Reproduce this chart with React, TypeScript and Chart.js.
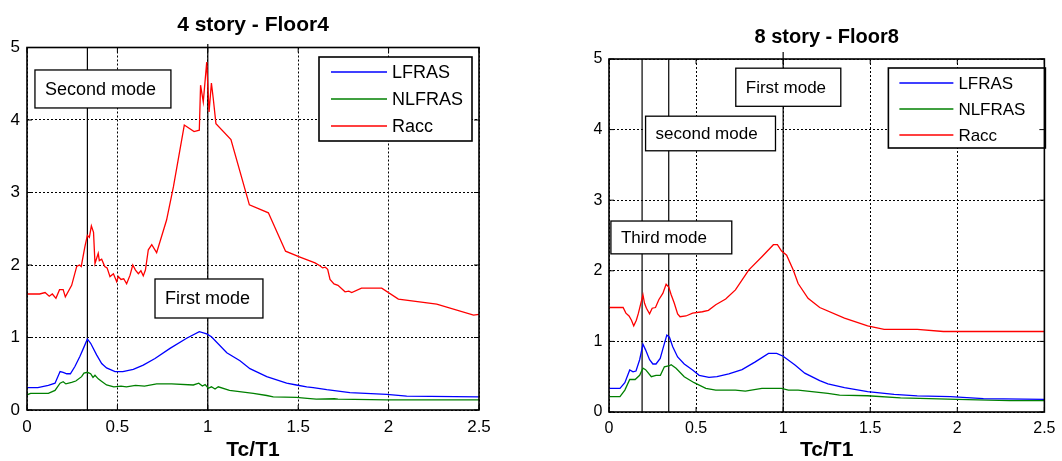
import React, { useEffect, useRef } from 'react';
import { Chart, registerables } from 'chart.js';

Chart.register(...registerables);

const FONT = "'Liberation Sans', Arial, Helvetica, sans-serif";

// ---------- shared labels ----------
const seriesNames = ['LFRAS', 'NLFRAS', 'Racc'];
const seriesColors = ['#0000ff', '#008000', '#ff0000'];
const xTickValues = [0, 0.5, 1, 1.5, 2, 2.5];
const xTickLabels = ['0', '0.5', '1', '1.5', '2', '2.5'];
const yTickValues = [0, 1, 2, 3, 4, 5];
const yTickLabels = ['0', '1', '2', '3', '4', '5'];
const xAxisTitle = 'Tc/T1';

// ---------- 4 story - Floor4 ----------
const f4LfrasX = [0, 0.06, 0.118, 0.155, 0.183, 0.2, 0.22, 0.24, 0.265, 0.293, 0.312, 0.334, 0.352, 0.385, 0.413, 0.44, 0.487, 0.53, 0.588, 0.643, 0.708, 0.791, 0.883, 0.953, 0.994, 1.02, 1.105, 1.178, 1.233, 1.326, 1.436, 1.49, 1.547, 1.583, 1.658, 1.786, 1.99, 2.1, 2.5];
const f4LfrasY = [0.31, 0.31, 0.34, 0.37, 0.53, 0.52, 0.5, 0.5, 0.6, 0.74, 0.85, 0.98, 0.92, 0.76, 0.64, 0.58, 0.53, 0.53, 0.56, 0.62, 0.71, 0.85, 0.99, 1.08, 1.05, 1.01, 0.79, 0.68, 0.57, 0.46, 0.37, 0.345, 0.32, 0.31, 0.28, 0.24, 0.216, 0.19, 0.18];

const f4NlfrasX = [0, 0.02, 0.118, 0.155, 0.183, 0.2, 0.215, 0.247, 0.27, 0.302, 0.315, 0.334, 0.352, 0.365, 0.376, 0.394, 0.41, 0.44, 0.48, 0.52, 0.55, 0.6, 0.65, 0.717, 0.8, 0.92, 0.95, 0.97, 0.985, 1.003, 1.02, 1.04, 1.058, 1.12, 1.252, 1.326, 1.362, 1.49, 1.55, 1.6, 1.7, 1.72, 1.99, 2.5];
const f4NlfrasY = [0.21, 0.23, 0.23, 0.27, 0.37, 0.39, 0.36, 0.38, 0.4, 0.46, 0.51, 0.52, 0.5, 0.45, 0.48, 0.43, 0.4, 0.345, 0.32, 0.33, 0.32, 0.34, 0.33, 0.36, 0.36, 0.345, 0.37, 0.33, 0.35, 0.3, 0.32, 0.29, 0.32, 0.27, 0.23, 0.2, 0.18, 0.175, 0.16, 0.15, 0.155, 0.15, 0.14, 0.14];

const f4RaccX = [0, 0.07, 0.1, 0.123, 0.14, 0.16, 0.18, 0.2, 0.212, 0.247, 0.275, 0.29, 0.3, 0.32, 0.334, 0.345, 0.356, 0.368, 0.376, 0.394, 0.4, 0.413, 0.43, 0.443, 0.459, 0.478, 0.496, 0.505, 0.52, 0.535, 0.551, 0.57, 0.585, 0.6, 0.616, 0.63, 0.643, 0.655, 0.671, 0.69, 0.717, 0.772, 0.81, 0.87, 0.924, 0.953, 0.96, 0.975, 0.994, 1.007, 1.02, 1.03, 1.045, 1.128, 1.23, 1.335, 1.43, 1.51, 1.593, 1.62, 1.635, 1.65, 1.663, 1.676, 1.698, 1.72, 1.759, 1.78, 1.796, 1.85, 1.962, 2.054, 2.266, 2.47, 2.5];
const f4RaccY = [1.6, 1.6, 1.62, 1.57, 1.6, 1.54, 1.66, 1.66, 1.56, 1.72, 1.98, 2.0, 1.98, 2.25, 2.41, 2.38, 2.54, 2.45, 2.02, 2.16, 2.06, 2.08, 1.98, 1.96, 1.84, 1.88, 1.77, 1.84, 1.8, 1.81, 1.74, 1.86, 2.0, 1.93, 1.88, 1.92, 1.85, 1.93, 2.21, 2.28, 2.17, 2.62, 3.08, 3.93, 3.84, 3.86, 4.48, 4.25, 4.8, 4.11, 4.51, 4.3, 3.95, 3.73, 2.83, 2.72, 2.19, 2.11, 2.03, 1.99, 1.96, 1.97, 1.94, 1.8, 1.74, 1.72, 1.63, 1.64, 1.62, 1.68, 1.68, 1.53, 1.46, 1.31, 1.32];

// ---------- 8 story - Floor8 ----------
const f8LfrasX = [0, 0.063, 0.091, 0.119, 0.138, 0.155, 0.176, 0.195, 0.21, 0.233, 0.252, 0.27, 0.294, 0.313, 0.332, 0.347, 0.366, 0.394, 0.432, 0.48, 0.518, 0.574, 0.62, 0.688, 0.764, 0.84, 0.916, 0.963, 1.0, 1.068, 1.124, 1.21, 1.257, 1.352, 1.485, 1.637, 1.77, 1.96, 2.15, 2.5];
const f8LfrasY = [0.335, 0.335, 0.415, 0.595, 0.57, 0.58, 0.74, 0.96, 0.88, 0.74, 0.68, 0.68, 0.76, 0.925, 1.09, 1.06, 0.925, 0.78, 0.68, 0.595, 0.52, 0.49, 0.5, 0.54, 0.6, 0.71, 0.83, 0.83, 0.79, 0.665, 0.55, 0.445, 0.4, 0.345, 0.29, 0.25, 0.227, 0.217, 0.19, 0.18];

const f8NlfrasX = [0, 0.063, 0.091, 0.119, 0.15, 0.176, 0.195, 0.21, 0.243, 0.27, 0.295, 0.318, 0.347, 0.357, 0.385, 0.432, 0.489, 0.556, 0.613, 0.726, 0.783, 0.878, 0.991, 1.03, 1.086, 1.257, 1.324, 1.485, 1.674, 2.0, 2.3, 2.5];
const f8NlfrasY = [0.217, 0.217, 0.31, 0.46, 0.46, 0.52, 0.62, 0.6, 0.5, 0.52, 0.52, 0.64, 0.655, 0.67, 0.62, 0.5, 0.415, 0.335, 0.31, 0.31, 0.297, 0.335, 0.335, 0.31, 0.31, 0.265, 0.24, 0.23, 0.2, 0.18, 0.16, 0.16];

const f8RaccX = [0, 0.081, 0.097, 0.115, 0.129, 0.142, 0.157, 0.169, 0.176, 0.195, 0.204, 0.215, 0.233, 0.248, 0.267, 0.286, 0.309, 0.328, 0.343, 0.357, 0.375, 0.394, 0.408, 0.442, 0.48, 0.536, 0.571, 0.613, 0.67, 0.726, 0.802, 0.878, 0.944, 0.967, 0.991, 1.02, 1.058, 1.086, 1.143, 1.21, 1.352, 1.485, 1.58, 1.77, 1.92, 2.5];
const f8RaccY = [1.48, 1.48, 1.4, 1.36, 1.3, 1.22, 1.3, 1.4, 1.47, 1.66, 1.54, 1.47, 1.39, 1.47, 1.48, 1.59, 1.68, 1.81, 1.77, 1.66, 1.54, 1.39, 1.35, 1.36, 1.4, 1.42, 1.44, 1.52, 1.6, 1.73, 2.01, 2.2, 2.37, 2.37, 2.28, 2.22, 2.01, 1.82, 1.61, 1.48, 1.33, 1.22, 1.17, 1.17, 1.14, 1.14];

// ---------- annotations (data units) ----------
const f4ModeLines = [0.334, 1.0];
const f4ModeLineTops = [5, 5.05];
const f4Notes = ['Second mode', 'First mode'];
const f4NoteX0 = [0.044, 0.708];
const f4NoteX1 = [0.796, 1.305];
const f4NoteYTop = [4.69, 1.807];
const f4NoteYBot = [4.166, 1.269];

const f8ModeLines = [0.19, 0.343, 1.0];
const f8ModeLineTops = [5, 5, 5.1];
const f8Notes = ['First mode', 'second mode', 'Third mode'];
const f8NoteX0 = [0.728, 0.21, 0.011];
const f8NoteX1 = [1.331, 0.956, 0.705];
const f8NoteYTop = [4.87, 4.19, 2.705];
const f8NoteYBot = [4.33, 3.7, 2.24];

function zip(xs: number[], ys: number[]) {
  return xs.map((x, i) => ({ x, y: ys[i] }));
}

const decorPlugin = {
  id: 'decor',
  beforeDatasetsDraw(chart: any, _a: any, opts: any) {
    const { ctx, scales } = chart;
    const x = scales.x, y = scales.y;
    ctx.save();
    ctx.strokeStyle = '#000';
    ctx.lineWidth = 1.2;
    ctx.setLineDash([]);
    opts.modeLines.forEach((v: number, i: number) => {
      const px = x.getPixelForValue(v);
      ctx.beginPath();
      ctx.moveTo(px, y.getPixelForValue(0));
      ctx.lineTo(px, y.getPixelForValue(opts.modeLineTops[i]));
      ctx.stroke();
    });
    ctx.restore();
  },
  afterDatasetsDraw(chart: any, _a: any, opts: any) {
    const { ctx, chartArea, scales } = chart;
    const x = scales.x, y = scales.y;
    ctx.save();
    ctx.setLineDash([]);
    // note boxes
    opts.notes.forEach((t: string, i: number) => {
      const x0 = x.getPixelForValue(opts.noteX0[i]);
      const x1 = x.getPixelForValue(opts.noteX1[i]);
      const y0 = y.getPixelForValue(opts.noteYTop[i]);
      const y1 = y.getPixelForValue(opts.noteYBot[i]);
      ctx.fillStyle = '#fff';
      ctx.fillRect(x0, y0, x1 - x0, y1 - y0);
      ctx.strokeStyle = '#000';
      ctx.lineWidth = 1.3;
      ctx.strokeRect(x0, y0, x1 - x0, y1 - y0);
      ctx.fillStyle = '#000';
      ctx.font = `${opts.noteSize}px ${FONT}`;
      ctx.textBaseline = 'middle';
      ctx.textAlign = 'left';
      ctx.fillText(t, x0 + 10, (y0 + y1) / 2 + 1);
    });
    // legend
    const lg = opts.legend;
    const lx = chartArea.right - lg.offsetRight - lg.width;
    const ly = chartArea.top + lg.offsetTop;
    ctx.fillStyle = '#fff';
    ctx.fillRect(lx, ly, lg.width, lg.height);
    ctx.strokeStyle = '#000';
    ctx.lineWidth = 1.6;
    ctx.strokeRect(lx, ly, lg.width, lg.height);
    ctx.font = `${lg.size}px ${FONT}`;
    ctx.textBaseline = 'middle';
    ctx.textAlign = 'left';
    chart.data.datasets.forEach((ds: any, i: number) => {
      const ry = ly + lg.row0 + i * lg.rowGap;
      ctx.strokeStyle = ds.borderColor;
      ctx.lineWidth = 1.3;
      ctx.beginPath();
      ctx.moveTo(lx + lg.lineStart, ry);
      ctx.lineTo(lx + lg.lineEnd, ry);
      ctx.stroke();
      ctx.fillStyle = '#000';
      ctx.fillText(ds.label, lx + lg.textX, ry + 1);
    });
    // axes box + inward ticks
    ctx.strokeStyle = '#000';
    ctx.lineWidth = 1.6;
    const { left, right, top, bottom } = chartArea;
    ctx.strokeRect(left, top, right - left, bottom - top);
    ctx.lineWidth = 1;
    const tl = 5;
    xTickValues.forEach((v) => {
      const px = x.getPixelForValue(v);
      ctx.beginPath();
      ctx.moveTo(px, bottom); ctx.lineTo(px, bottom - tl);
      ctx.moveTo(px, top); ctx.lineTo(px, top + tl);
      ctx.stroke();
    });
    yTickValues.forEach((v) => {
      const py = y.getPixelForValue(v);
      ctx.beginPath();
      ctx.moveTo(left, py); ctx.lineTo(left + tl, py);
      ctx.moveTo(right, py); ctx.lineTo(right - tl, py);
      ctx.stroke();
    });
    ctx.restore();
  },
};

type Panel = {
  left: number; width: number; height: number;
  yAxisWidth: number; padRight: number; xAxisHeight: number;
  title: string; titleSize: number; titlePadTop: number; titlePadBottom: number;
  tickSize: number; tickPad: number; xTitleSize: number;
  series: { x: number[]; y: number[] }[];
  modeLines: number[]; modeLineTops: number[];
  notes: string[]; noteX0: number[]; noteX1: number[]; noteYTop: number[]; noteYBot: number[]; noteSize: number;
  legend: any;
};

function PlotPanel({ p }: { p: Panel }) {
  const ref = useRef<HTMLCanvasElement>(null);
  useEffect(() => {
    const chart = new Chart(ref.current as HTMLCanvasElement, {
      type: 'line',
      data: {
        datasets: p.series.map((s, i) => ({
          label: seriesNames[i],
          data: zip(s.x, s.y),
          borderColor: seriesColors[i],
          backgroundColor: seriesColors[i],
          borderWidth: 1.3,
          pointRadius: 0,
          tension: 0,
          fill: false,
        })),
      },
      options: {
        animation: false,
        responsive: false,
        maintainAspectRatio: false,
        layout: { padding: { left: 0, right: p.padRight, top: 0, bottom: 0 } },
        plugins: {
          legend: { display: false },
          tooltip: { enabled: false },
          title: {
            display: true,
            text: p.title,
            fullSize: false,
            color: '#000',
            font: { family: FONT, size: p.titleSize, weight: 'bold', lineHeight: 1 },
            padding: { top: p.titlePadTop, bottom: p.titlePadBottom },
          },
          decor: {
            modeLines: p.modeLines, modeLineTops: p.modeLineTops,
            notes: p.notes, noteX0: p.noteX0, noteX1: p.noteX1,
            noteYTop: p.noteYTop, noteYBot: p.noteYBot, noteSize: p.noteSize,
            legend: p.legend,
          },
        } as any,
        scales: {
          x: {
            type: 'linear',
            min: 0,
            max: 2.5,
            afterBuildTicks: (s: any) => { s.ticks = xTickValues.map((v) => ({ value: v })); },
            afterFit: (s: any) => { s.height = p.xAxisHeight; },
            ticks: {
              color: '#000',
              font: { family: FONT, size: p.tickSize },
              padding: p.tickPad,
              maxRotation: 0,
              callback: (v: any) => xTickLabels[xTickValues.indexOf(Number(v))],
            },
            grid: { color: '#000', lineWidth: 1, drawTicks: false },
            border: { display: false, dash: [2, 2] },
            title: {
              display: true,
              text: xAxisTitle,
              color: '#000',
              font: { family: FONT, size: p.xTitleSize, weight: 'bold', lineHeight: 1 },
              padding: { top: 0, bottom: 0 },
            },
          },
          y: {
            type: 'linear',
            min: 0,
            max: 5,
            afterBuildTicks: (s: any) => { s.ticks = yTickValues.map((v) => ({ value: v })); },
            afterFit: (s: any) => { s.width = p.yAxisWidth; },
            ticks: {
              color: '#000',
              font: { family: FONT, size: p.tickSize },
              padding: p.tickPad,
              callback: (v: any) => yTickLabels[yTickValues.indexOf(Number(v))],
            },
            grid: { color: '#000', lineWidth: 1, drawTicks: false },
            border: { display: false, dash: [2, 2] },
          },
        },
      } as any,
      plugins: [decorPlugin as any],
    });
    return () => chart.destroy();
  }, []);
  return (
    <canvas
      ref={ref}
      width={p.width}
      height={p.height}
      style={{ position: 'absolute', left: p.left, top: 0, width: p.width, height: p.height }}
    />
  );
}

const panel4: Panel = {
  left: 0, width: 530, height: 461,
  yAxisWidth: 27, padRight: 51, xAxisHeight: 51,
  title: '4 story - Floor4', titleSize: 21, titlePadTop: 14.5, titlePadBottom: 12,
  tickSize: 17, tickPad: 7, xTitleSize: 21,
  series: [
    { x: f4LfrasX, y: f4LfrasY },
    { x: f4NlfrasX, y: f4NlfrasY },
    { x: f4RaccX, y: f4RaccY },
  ],
  modeLines: f4ModeLines, modeLineTops: f4ModeLineTops,
  notes: f4Notes, noteX0: f4NoteX0, noteX1: f4NoteX1, noteYTop: f4NoteYTop, noteYBot: f4NoteYBot, noteSize: 18,
  legend: { offsetRight: 7, offsetTop: 9.5, width: 153, height: 84, lineStart: 12, lineEnd: 68, textX: 73, row0: 15, rowGap: 27, size: 18 },
};

const panel8: Panel = {
  left: 582, width: 480, height: 461,
  yAxisWidth: 27, padRight: 13, xAxisHeight: 49,
  title: '8 story - Floor8', titleSize: 20, titlePadTop: 27.5, titlePadBottom: 11.5,
  tickSize: 16, tickPad: 6.5, xTitleSize: 21,
  series: [
    { x: f8LfrasX, y: f8LfrasY },
    { x: f8NlfrasX, y: f8NlfrasY },
    { x: f8RaccX, y: f8RaccY },
  ],
  modeLines: f8ModeLines, modeLineTops: f8ModeLineTops,
  notes: f8Notes, noteX0: f8NoteX0, noteX1: f8NoteX1, noteYTop: f8NoteYTop, noteYBot: f8NoteYBot, noteSize: 17,
  legend: { offsetRight: -1, offsetTop: 9, width: 157, height: 80, lineStart: 11, lineEnd: 65, textX: 70, row0: 15, rowGap: 26, size: 17 },
};

export default function App() {
  return (
    <div style={{ position: 'absolute', left: 0, top: 0, width: 1062, height: 461, background: '#fff', overflow: 'hidden' }}>
      <PlotPanel p={panel4} />
      <PlotPanel p={panel8} />
    </div>
  );
}
